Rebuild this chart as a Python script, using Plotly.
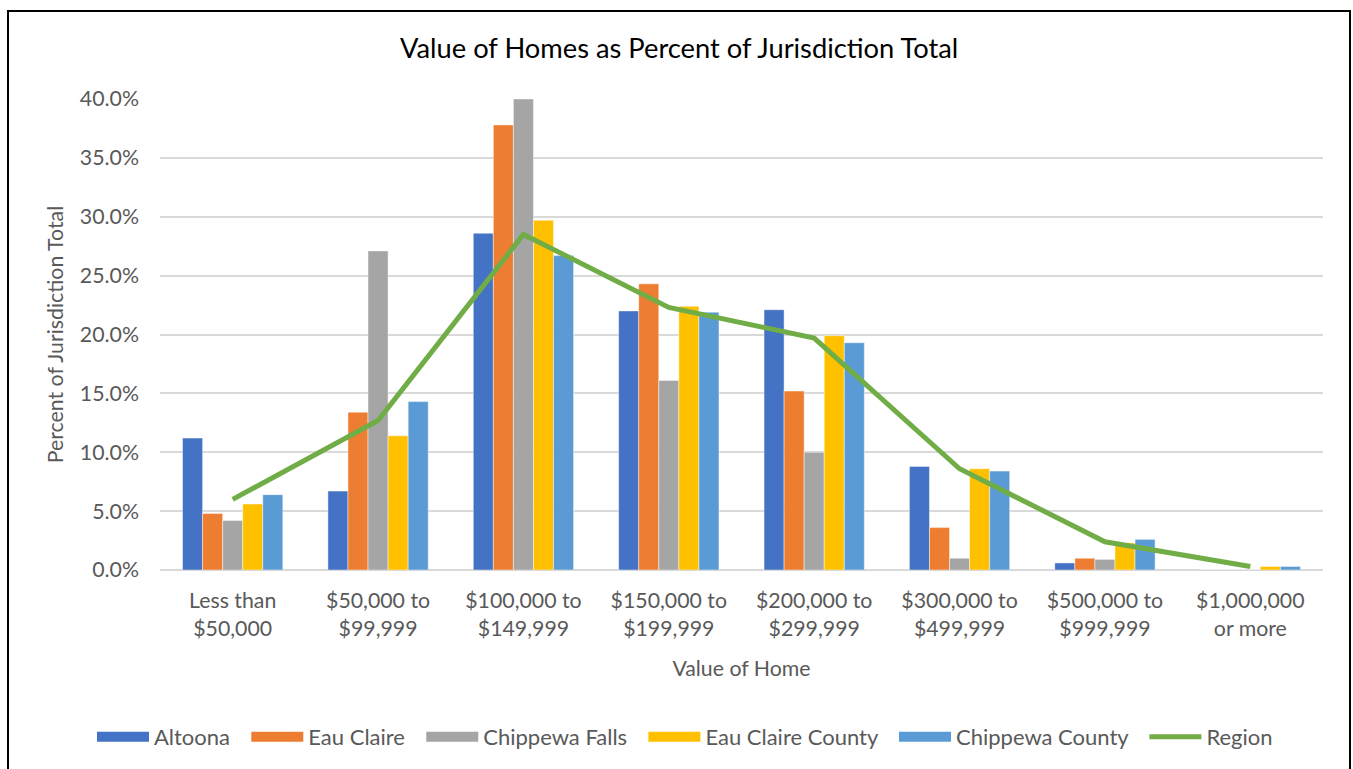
import plotly.graph_objects as go

categories = ["Less than<br>$50,000", "$50,000 to<br>$99,999", "$100,000 to<br>$149,999",
              "$150,000 to<br>$199,999", "$200,000 to<br>$299,999", "$300,000 to<br>$499,999",
              "$500,000 to<br>$999,999", "$1,000,000<br>or more"]

altoona = [11.2, 6.7, 28.6, 22.0, 22.1, 8.8, 0.6, 0.0]
eau_claire = [4.8, 13.4, 37.8, 24.3, 15.2, 3.6, 1.0, 0.0]
chippewa_falls = [4.2, 27.1, 40.0, 16.1, 10.0, 1.0, 0.9, 0.0]
eau_claire_county = [5.6, 11.4, 29.7, 22.4, 19.9, 8.6, 2.3, 0.3]
chippewa_county = [6.4, 14.3, 26.7, 21.9, 19.3, 8.4, 2.6, 0.3]
region = [6.0, 12.7, 28.5, 22.3, 19.7, 8.6, 2.4, 0.3]

tick_vals = [0, 5, 10, 15, 20, 25, 30, 35, 40]
tick_text = [f"{v:.1f}%" for v in tick_vals]

FONT = "Lato, 'Liberation Sans', sans-serif"
GREY = "#595959"
PAD = "\u00a0\u00a0"

bar_series = [
    ("Altoona", altoona, "#4472c4"),
    ("Eau Claire", eau_claire, "#ed7d31"),
    ("Chippewa Falls", chippewa_falls, "#a5a5a5"),
    ("Eau Claire County", eau_claire_county, "#ffc000"),
    ("Chippewa County", chippewa_county, "#5b9bd5"),
]

fig = go.Figure()
for name, vals, color in bar_series:
    fig.add_trace(go.Bar(
        x=categories, y=vals, name=name, legendgroup=name, showlegend=False,
        marker=dict(color=color, line=dict(color="rgba(255,255,255,0.45)", width=1)),
    ))

fig.add_trace(go.Scatter(
    x=categories, y=region, name="Region", mode="lines", legendgroup="Region",
    showlegend=False, line=dict(color="#70ad47", width=5),
))

# legend entries (wide rectangular swatches like the original)
for name, vals, color in bar_series:
    fig.add_trace(go.Scatter(
        x=[None], y=[None], name=name + PAD, legendgroup=name, mode="lines",
        line=dict(color=color, width=16), hoverinfo="skip",
    ))
fig.add_trace(go.Scatter(
    x=[None], y=[None], name="Region", legendgroup="Region", mode="lines",
    line=dict(color="#70ad47", width=5), hoverinfo="skip",
))

W, H = 1353, 769
L, R, T, B = 160, 30, 99, 199
pw, ph = W - L - R, H - T - B


def px_x(x):
    return (x - L) / pw


def px_y(y):
    return (H - B - y) / ph


fig.update_layout(
    width=W, height=H,
    margin=dict(l=L, r=R, t=T, b=B, autoexpand=False),
    paper_bgcolor="white", plot_bgcolor="white",
    font=dict(family=FONT, color=GREY, size=21),
    barmode="group", bargap=0.31, bargroupgap=0,
    title=dict(text="Value of Homes as Percent of Jurisdiction Total",
               x=0.502, xref="container", xanchor="center",
               y=1 - 48 / H, yref="container", yanchor="middle",
               font=dict(family=FONT, size=27.3, color="#000000")),
    xaxis=dict(
        title=dict(text="Value of Home", font=dict(size=21.3, color=GREY), standoff=21),
        showgrid=False, showline=False, ticks="", ticklabelstandoff=16,
        tickfont=dict(size=21.3, color=GREY),
    ),
    yaxis=dict(
        title=dict(text="Percent of Jurisdiction Total", font=dict(size=21.3, color=GREY), standoff=10),
        range=[0, 40], tickvals=tick_vals, ticktext=tick_text,
        showgrid=True, gridcolor="#d9d9d9", gridwidth=1.5,
        zeroline=True, zerolinecolor="#d9d9d9", zerolinewidth=1.5,
        showline=False, ticks="", ticklabelstandoff=20,
        tickfont=dict(size=21.3, color=GREY),
    ),
    legend=dict(orientation="h", x=px_x(92), xref="paper", xanchor="left",
                y=px_y(737), yref="paper", yanchor="middle",
                font=dict(size=22, color=GREY), itemwidth=52,
                traceorder="normal"),
    showlegend=True,
    shapes=[dict(type="rect", xref="paper", yref="paper",
                 x0=px_x(8), x1=px_x(1350), y0=px_y(790), y1=px_y(11),
                 line=dict(color="black", width=2), fillcolor="rgba(0,0,0,0)",
                 layer="above")],
)

fig.write_html("out.html", config={"displayModeBar": False},
               post_script="document.body.style.margin='0';document.body.style.overflow='hidden';")
